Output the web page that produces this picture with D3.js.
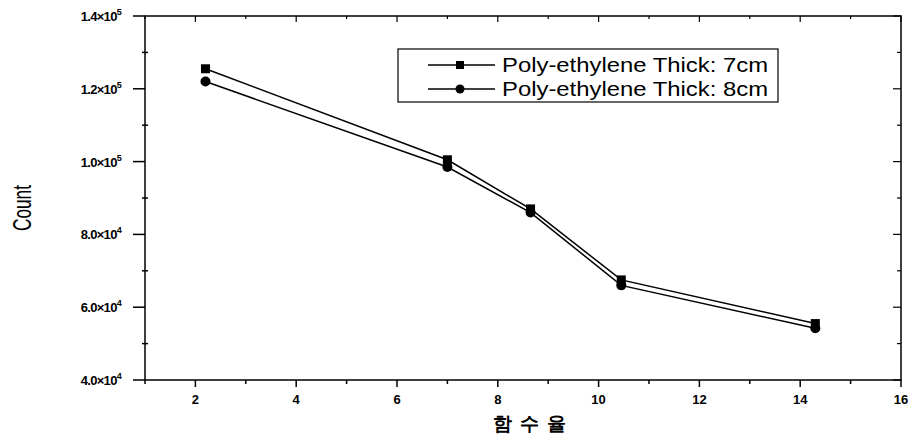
<!DOCTYPE html>
<html>
<head>
<meta charset="utf-8">
<script src="https://cdn.jsdelivr.net/npm/d3@7"></script>
<style>
  body { margin: 0; background: #fff; }
  text { font-family: "Liberation Sans", Arial, sans-serif; }
</style>
</head>
<body>
<div id="chart"></div>
<script>
// moisture content (x) and counts for each poly-ethylene thickness
let moisture = [2.2, 7.0, 8.65, 10.45, 14.3];
let count7cm = [125500, 100500, 87000, 67500, 55500];
let count8cm = [122000, 98500, 86000, 66000, 54200];
let seriesNames = ["Poly-ethylene Thick: 7cm", "Poly-ethylene Thick: 8cm"];
let yTicks = [40000, 60000, 80000, 100000, 120000, 140000];
let yTickLabels = [["4.0", "4"], ["6.0", "4"], ["8.0", "4"], ["1.0", "5"], ["1.2", "5"], ["1.4", "5"]];
let xTicks = [2, 4, 6, 8, 10, 12, 14, 16];

let width = 912
let height = 441
let margin = {left: 145, right: 11, top: 16, bottom: 61};

let svg = d3.select("#chart").append("svg")
    .attr("width", width)
    .attr("height", height);

let x = d3.scaleLinear()
    .domain([1, 16])
    .range([margin.left, width - margin.right]);
let y = d3.scaleLinear()
    .domain([40000, 140000])
    .range([height - margin.bottom, margin.top]);

let x0 = x.range()[0], x1 = x.range()[1];
let y0 = y.range()[0], y1 = y.range()[1];

// frame
svg.append("rect")
    .attr("x", x0).attr("y", y1)
    .attr("width", x1 - x0).attr("height", y0 - y1)
    .attr("fill", "none").attr("stroke", "#000").attr("stroke-width", 1.5);

// bottom axis: major ticks outward, minor shorter
let minorX = d3.range(1, 17);
svg.append("g").selectAll("line")
    .data(minorX)
    .enter().append("line")
    .attr("x1", d => x(d)).attr("x2", d => x(d))
    .attr("y1", y0).attr("y2", d => y0 + (d % 2 === 0 ? 7 : 4))
    .attr("stroke", "#000").attr("stroke-width", 1.5);
// top axis ticks inward
svg.append("g").selectAll("line")
    .data(minorX)
    .enter().append("line")
    .attr("x1", d => x(d)).attr("x2", d => x(d))
    .attr("y1", y1).attr("y2", d => y1 + (d % 2 === 0 ? 6 : 3))
    .attr("stroke", "#000").attr("stroke-width", 1.2);

svg.append("g").selectAll("text")
    .data(xTicks)
    .enter().append("text")
    .attr("x", d => x(d))
    .attr("y", y0 + 24)
    .attr("text-anchor", "middle")
    .attr("font-size", 13)
    .attr("font-weight", "bold")
    .text(d => d);

// left axis
let minorY = d3.range(40000, 140001, 10000);
svg.append("g").selectAll("line")
    .data(minorY)
    .enter().append("line")
    .attr("x1", d => x0 - (d % 20000 === 0 ? 12 : 3))
    .attr("x2", d => x0 + (d % 20000 === 0 ? 0 : 3))
    .attr("y1", d => y(d)).attr("y2", d => y(d))
    .attr("stroke", "#000").attr("stroke-width", 1.5);
// right axis ticks inward
svg.append("g").selectAll("line")
    .data(minorY)
    .enter().append("line")
    .attr("x1", x1)
    .attr("x2", d => x1 - (d % 20000 === 0 ? 8 : 4))
    .attr("y1", d => y(d)).attr("y2", d => y(d))
    .attr("stroke", "#000").attr("stroke-width", 1.2);

let ylab = svg.append("g").selectAll("text")
    .data(yTicks)
    .enter().append("text")
    .attr("x", x0 - 24)
    .attr("y", d => y(d) + 5)
    .attr("text-anchor", "end")
    .attr("font-size", 13)
    .attr("font-weight", "bold")
    .attr("letter-spacing", "-0.7px");
ylab.append("tspan").text((d, i) => yTickLabels[i][0] + "\u00d710");
ylab.append("tspan")
    .attr("dy", -6)
    .attr("font-size", 9)
    .text((d, i) => yTickLabels[i][1]);

// axis titles
svg.append("text")
    .attr("transform", "translate(31," + ((y0 + y1) / 2 + 10) + ") rotate(-90)")
    .attr("text-anchor", "middle")
    .attr("font-size", 25)
    .attr("textLength", 46)
    .attr("lengthAdjust", "spacingAndGlyphs")
    .text("Count");

svg.append("text")
    .attr("x", 533)
    .attr("y", y0 + 50)
    .attr("text-anchor", "middle")
    .attr("font-family", "Noto Sans CJK KR")
    .attr("font-size", 19)
    .attr("font-weight", "bold")
    .attr("letter-spacing", "8px")
    .text("함수율");

// series lines and markers
let line = d3.line()
    .x(d => x(d[0]))
    .y(d => y(d[1]));

let series = [count7cm, count8cm];
series.forEach(function (vals, si) {
    let pts = moisture.map((m, i) => [m, vals[i]]);
    svg.append("path")
        .datum(pts)
        .attr("d", line)
        .attr("fill", "none")
        .attr("stroke", "#000")
        .attr("stroke-width", 1.5);
    let g = svg.append("g");
    if (si === 0) {
        g.selectAll("rect").data(pts).enter().append("rect")
            .attr("x", d => x(d[0]) - 4.5).attr("y", d => y(d[1]) - 4.5)
            .attr("width", 9).attr("height", 9)
            .attr("fill", "#000");
    } else {
        g.selectAll("circle").data(pts).enter().append("circle")
            .attr("cx", d => x(d[0])).attr("cy", d => y(d[1]))
            .attr("r", 5)
            .attr("fill", "#000");
    }
});

// legend
let legend = svg.append("g").attr("transform", "translate(398,49)");
legend.append("rect")
    .attr("width", 380).attr("height", 53)
    .attr("fill", "#fff").attr("stroke", "#000").attr("stroke-width", 1.2);
seriesNames.forEach(function (name, i) {
    let ly = 16 + i * 24;
    legend.append("line")
        .attr("x1", 30).attr("x2", 97)
        .attr("y1", ly).attr("y2", ly)
        .attr("stroke", "#000").attr("stroke-width", 1.5);
    if (i === 0) {
        legend.append("rect")
            .attr("x", 58).attr("y", ly - 4).attr("width", 8).attr("height", 8)
            .attr("fill", "#000");
    } else {
        legend.append("circle")
            .attr("cx", 62).attr("cy", ly).attr("r", 4.5)
            .attr("fill", "#000");
    }
    legend.append("text")
        .attr("x", 104).attr("y", ly + 7)
        .attr("font-size", 20)
        .attr("textLength", 266)
        .attr("lengthAdjust", "spacingAndGlyphs")
        .text(name);
});
</script>
</body>
</html>
